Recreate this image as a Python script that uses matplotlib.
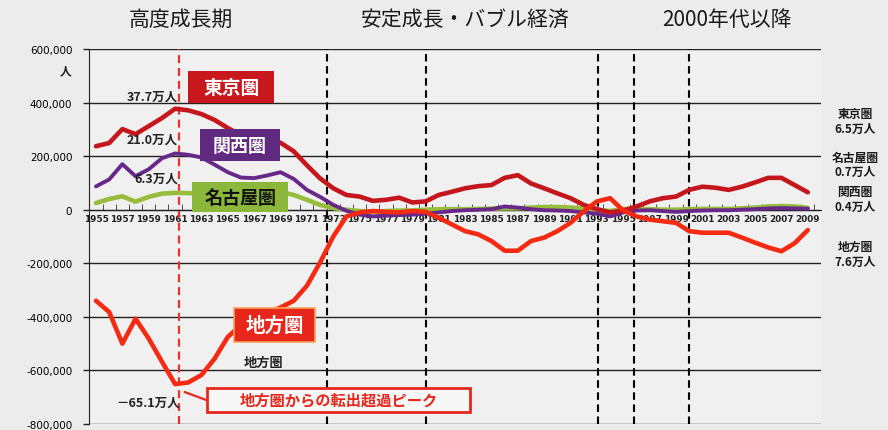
import matplotlib
matplotlib.use("Agg")
from matplotlib import pyplot as plt
from matplotlib.patches import Rectangle
import numpy as np

plt.rcParams['font.family'] = ['Noto Sans CJK JP', 'DejaVu Sans']

years = list(range(1955, 2010))

# 転入超過数(人)
tokyo = [237000, 249000, 301000, 282000, 312000, 342000, 377000, 371000, 357000, 335000,
         305000, 278000, 270000, 266000, 250000, 218000, 166000, 117000, 80000, 55000,
         49000, 33000, 37000, 45000, 27000, 31000, 55000, 67000, 80000, 88000,
         92000, 119000, 129000, 98000, 80000, 61000, 43000, 18000, 2000, -10000,
         -3000, 12000, 31000, 43000, 49000, 74000, 86000, 82000, 74000, 86000,
         102000, 119000, 119000, 92000, 65000]
kansai = [87000, 113000, 170000, 125000, 151000, 192000, 210000, 205000, 195000, 168000,
          140000, 120000, 118000, 128000, 140000, 115000, 74000, 48000, 18000, -4000,
          -18000, -25000, -22000, -20000, -18000, -15000, -10000, -5000, -2000, 0,
          2000, 12000, 8000, 2000, -2000, -3000, -5000, -10000, -15000, -25000,
          -10000, -3000, -2000, -5000, -8000, -5000, -3000, -2000, -2000, 0,
          2000, 5000, 6000, 5000, 4000]
nagoya = [25000, 40000, 50000, 30000, 48000, 60000, 63000, 62000, 60000, 56000,
          55000, 55000, 60000, 65000, 67000, 55000, 37000, 18000, 6000, 0,
          -5000, -8000, -5000, -3000, -3000, 0, 2000, 2000, 2000, 3000,
          4000, 5000, 5000, 8000, 10000, 10000, 8000, 5000, 0, -5000,
          3000, 2000, 2000, 0, 0, 2000, 3000, 3000, 3000, 5000,
          8000, 12000, 14000, 12000, 7000]
chiho = [-340000, -382000, -500000, -407000, -481000, -567000, -651000, -645000, -617000, -556000,
         -475000, -430000, -405000, -385000, -365000, -340000, -284000, -197000, -100000, -25000,
         -10000, -5000, -8000, -10000, -5000, -8000, -30000, -55000, -80000, -92000,
         -117000, -153000, -153000, -117000, -104000, -80000, -49000, -6000, 31000, 43000,
         -3000, -25000, -37000, -43000, -49000, -80000, -86000, -86000, -86000, -104000,
         -123000, -141000, -155000, -125000, -76000]

tick_years = list(range(1955, 2010, 2))
y_ticks = list(range(-800000, 600001, 200000))
period_lines = [1972.5, 1980.0, 1993.05, 1995.8, 2000.0]
peak_year = 1961.3

W, H = 888, 431
fig = plt.figure(figsize=(W / 100, H / 100), dpi=100, facecolor='#ececec')
ax = fig.add_axes([89 / W, 1 - 425 / H, (821 - 89) / W, (425 - 50) / H])
ax.set_facecolor('#f0f0f0')

ax.set_xlim(1954.47, 2010.0)
ax.set_ylim(-800000, 600000)

# y axis
ax.set_yticks(y_ticks)
ax.set_yticklabels([f'{v:,}' for v in y_ticks], fontsize=7.5, family='DejaVu Sans')
ax.tick_params(axis='y', length=4, width=1, color='#222', pad=8)
ax.grid(axis='y', color='#222222', lw=1.0)
ax.set_axisbelow(True)

# x axis crosses at 0
ax.spines['bottom'].set_position(('data', 0))
ax.spines['bottom'].set_color('#222')
ax.spines['left'].set_color('#222')
ax.spines['top'].set_visible(False)
ax.spines['right'].set_visible(False)
ax.set_xticks(tick_years)
ax.set_xticklabels([str(y) for y in tick_years], fontsize=6.4, fontweight='bold',
                   family='DejaVu Sans', color='#222')
ax.tick_params(axis='x', which='major', length=0, pad=3)
ax.set_xticks(np.arange(1955.5, 2009.6, 1.0), minor=True)
ax.tick_params(axis='x', which='minor', direction='in', length=4, color='#333')

# period separators
for x in period_lines:
    ax.axvline(x, color='black', lw=1.5, ls=(0, (3.6, 2.2)), zorder=2)
ax.axvline(peak_year, color='#e8332a', lw=1.6, ls=(0, (3.6, 2.2)), zorder=2)

# series
ax.plot(years, nagoya, color='#96be3c', lw=3.3, zorder=3, solid_capstyle='round')
ax.plot(years, kansai, color='#68288a', lw=2.8, zorder=4, solid_capstyle='round')
ax.plot(years, tokyo, color='#c4161c', lw=3.3, zorder=5, solid_capstyle='round')
ax.plot(years, chiho, color='#f42a12', lw=3.3, zorder=6, solid_capstyle='round')


def label_box(x0, x1, y0, y1, text, fc, tc, size, ec=None, lw=0):
    ax.add_patch(Rectangle((x0, y0), x1 - x0, y1 - y0, fc=fc, ec=ec or fc, lw=lw,
                           zorder=8, clip_on=False))
    ax.text((x0 + x1) / 2, (y0 + y1) / 2, text, color=tc, fontsize=size,
            fontweight='bold', ha='center', va='center', zorder=9)


label_box(1962.0, 1968.5, 398000, 517000, '東京圏', '#c8181e', 'white', 13.5)
label_box(1962.9, 1968.95, 182000, 301000, '関西圏', '#5f2a7f', 'white', 13)
label_box(1962.3, 1969.6, -9000, 103000, '名古屋圏', '#8bb83a', '#111', 13)
label_box(1965.5, 1971.6, -494000, -367000, '地方圏', '#e8271c', 'white', 14,
          ec='#f7a35a', lw=1.2)

# peak values
ax.text(1961.2, 424000, '37.7万人', fontsize=9, fontweight='bold', ha='right',
        va='center', color='#222', zorder=7)
ax.text(1961.2, 263000, '21.0万人', fontsize=9, fontweight='bold', ha='right',
        va='center', color='#222', zorder=7)
ax.text(1961.2, 118000, '6.3万人', fontsize=9, fontweight='bold', ha='right',
        va='center', color='#222', zorder=7)
ax.text(1961.4, -718000, '－65.1万人', fontsize=9, fontweight='bold', ha='right',
        va='center', color='#222', zorder=7)
ax.text(1967.7, -569000, '地方圏', fontsize=9.5, fontweight='bold', ha='center',
        va='center', color='#222', zorder=7)

# callout for the outflow peak
ax.plot([1961.75, 1963.45], [-681000, -712000], color='#e8271c', lw=1.6, zorder=7)
ax.add_patch(Rectangle((1963.4, -755000), 20.0, 90000, fc='#f7f7f7', ec='#e8271c',
                       lw=2.0, zorder=8))
ax.text(1973.4, -710000, '地方圏からの転出超過ピーク', color='#e8271c', fontsize=11,
        fontweight='bold', ha='center', va='center', zorder=9)

# unit and period headings
fig.text(66 / W, 1 - 72 / H, '人', fontsize=8.5, fontweight='bold', ha='center',
         va='center', color='#222')
for px, txt in [(181, '高度成長期'), (465, '安定成長・バブル経済'), (727, '2000年代以降')]:
    fig.text(px / W, 1 - 20 / H, txt, fontsize=15, ha='center', va='center', color='#1a1a1a')

# 2009 values on the right
for py, txt in [(122, '東京圏\n6.5万人'), (165, '名古屋圏\n0.7万人'),
                (200, '関西圏\n0.4万人'), (255, '地方圏\n7.6万人')]:
    fig.text(855 / W, 1 - py / H, txt, fontsize=8.5, fontweight='bold', ha='center',
             va='center', color='#1a1a1a', linespacing=1.15)

fig.savefig('out.png', dpi=100, facecolor=fig.get_facecolor())
